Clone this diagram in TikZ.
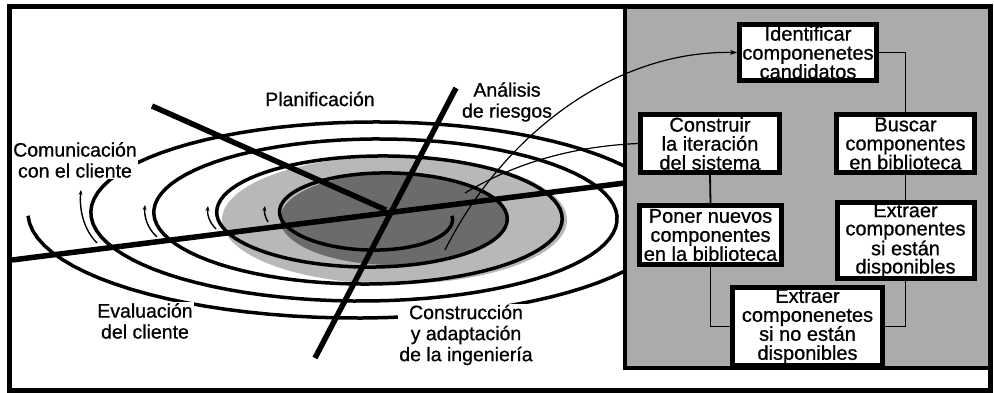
\documentclass[tikz,border=0pt]{standalone}
\usepackage{fontspec}
\setmainfont{Liberation Sans}[FakeBold=0.8]
\usetikzlibrary{arrows.meta}
\definecolor{lightring}{gray}{0.72}
\definecolor{darkcore}{gray}{0.42}
\definecolor{panelgray}{gray}{0.67}
\begin{document}
\begin{tikzpicture}[x=1pt,y=-1pt,
  lbl/.style={font=\fontsize{19.5}{21}\selectfont, align=center, inner sep=1pt, fill=white},
  box/.style={draw, line width=5pt, fill=white, font=\fontsize{20}{19}\selectfont, align=center, inner sep=1pt},
  heavy/.style={line width=5.5pt},
  spiralline/.style={line width=3.5pt, line join=round},
  conn/.style={line width=1.8pt},
  fine/.style={line width=1.2pt},
  tinyarrow/.style={line width=1.4pt, -{Stealth[length=5pt,width=4pt]}}
]
\useasboundingbox (0,0) rectangle (994,393);
\fill[white] (0,0) rectangle (994,393);

% shaded rings
\fill[lightring] (394.5,220) ellipse [x radius=172.5pt, y radius=64pt];
\fill[darkcore] (393.5,219) ellipse [x radius=113.5pt, y radius=46pt];

% spiral
\draw[spiralline] plot[domain=0:1620, samples=400]
  ({381.75 - 4*(\x/360) + (70.25+59*(\x/360))*cos(\x)}, {215.75 + (30+17*(\x/360))*sin(\x)});

% small arrows on the left
\draw[tinyarrow] (97,243) .. controls (84,230) and (79,210) .. (81,190);
\draw[tinyarrow] (157,237) .. controls (147,228) and (144,216) .. (145,205);
\draw[tinyarrow] (216,229) .. controls (209,222) and (207,214) .. (208,206);
\draw[tinyarrow] (268,222) .. controls (265,217) and (264,212) .. (265,206);

% labels
\node[lbl] (plan) at (320,99) {Planificación};
\node[lbl] (riesgo) at (507,102) {Análisis\\de riesgos};
\node[lbl] (comu) at (75,160) {Comunicación\\con el cliente};
\node[lbl] (eval) at (145,321) {Evaluación\\del cliente};
\node[lbl] (constr) at (466,335) {Construcción\\y adaptación\\de la ingeniería};

% heavy dividing lines
\coordinate (hA) at (12,260);
\coordinate (hB) at (625,183);
\coordinate (pA) at (152,106);
\coordinate (pB) at (386,210);
\coordinate (rA) at (456,88);
\coordinate (rB) at (315,358);
\draw[heavy] (hA) -- (hB);
\draw[heavy] (pA) -- (pB);
\draw[heavy] (rA) -- (rB);

% right panel
\fill[panelgray] (625,6) rectangle (990,368);
\draw[line width=4pt] (625,6) -- (625,368) -- (990,368);

% boxes
\node[box, minimum width=137pt, minimum height=56pt] (ident) at (808,52.5) {Identificar\\componenetes\\candidatos};
\node[box, minimum width=139pt, minimum height=58pt] (constru) at (710,143.5) {Construir\\la iteración\\del sistema};
\node[box, minimum width=138pt, minimum height=58pt] (buscar) at (905.5,143.5) {Buscar\\componentes\\en biblioteca};
\node[box, minimum width=142pt, minimum height=59pt] (poner) at (710.5,235) {Poner nuevos\\componentes\\en la biblioteca};
\node[box, minimum width=137pt, minimum height=70pt, font=\fontsize{20}{18.2}\selectfont] (extsi) at (905.5,240.5) {Extraer\\componentes\\si están\\disponibles};
\node[box, minimum width=150pt, minimum height=78pt] (extno) at (807.5,326.5) {Extraer\\componenetes\\si no están\\disponibles};

% connectors between boxes
\draw[conn] (ident.east) -| (buscar.north);
\draw[conn] (buscar.south) -- (extsi.north);
\draw[conn] (extsi.south) |- (extno.east);
\draw[conn] (extno.west) -| (poner.south);
\draw[conn] (poner.north) -- (constru.south);

% thin links from the spiral
\coordinate (coreA) at (445,250);
\coordinate (coreB) at (465,193);
\draw[fine, -{Stealth[length=7pt,width=5pt]}] (coreA) .. controls (500,140) and (610,50) .. (ident.west);
\draw[fine] (coreB) .. controls (520,160) and (580,146) .. (constru.west);

% outer frame
\draw[line width=5pt] (9,6.5) rectangle (990.5,390);
\end{tikzpicture}
\end{document}
